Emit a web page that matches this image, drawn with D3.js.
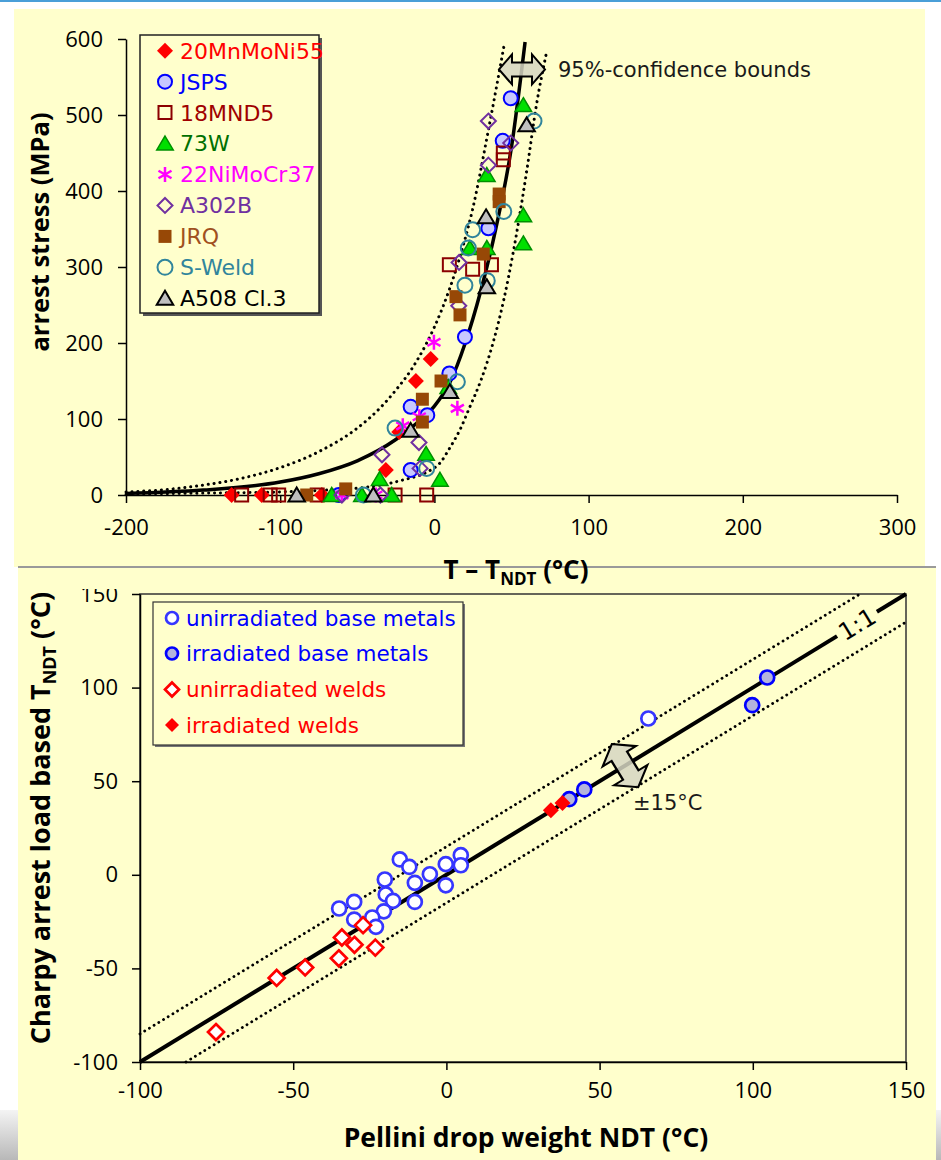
<!DOCTYPE html>
<html><head><meta charset="utf-8">
<script src="https://cdn.jsdelivr.net/npm/d3@7"></script>
<style>body{margin:0;background:#fff}svg{display:block}</style>
</head><body>
<svg id="c" width="941" height="1160"></svg>
<script>
// ---------------- DATA: top chart ----------------
const topXTicks = [-200,-100,0,100,200,300];
const topYTicks = [0,100,200,300,400,500,600];
const s20MnMoNi55 = [[-131.5,0],[-112,0],[-73,0],[-31.5,33],[-22.8,83],[-12,150],[-2.4,179]];
const sJSPS = [[49.5,522],[44.3,466],[35,351],[19.8,208],[9.7,160],[-15.4,116],[-4.6,105],[-15.4,33],[-62,0]];
const s18MND5 = [[44.7,450],[44.7,441],[9.7,303],[24.8,297],[37,303],[-5,0],[-25.5,0],[-125,0],[-106.5,0],[-101,0],[-76,0]];
const s73W = [[57.7,513],[34,421],[57.7,368],[57.7,331],[23,325],[34,325],[9,142],[-5.4,54],[3.6,20],[-35.5,21],[-66.6,0],[-47,0],[-27.7,0]];
const s22NiMoCr37 = [[-0.3,201],[14.9,114],[-9.8,103],[-20.5,91],[-60,0],[-38,0]];
const sA302B = [[35,492],[49.5,463],[35,434],[16,306],[15.8,249],[-10,69],[-34,53],[-9.3,35],[-60,0],[-35,0]];
const sJRQ = [[42,396],[42,386],[31.7,317],[14,261],[16.6,237],[4.3,150],[-7.8,126],[-7.8,96],[-57.5,8],[-82.8,0]];
const sSWeld = [[64.6,492],[45,373],[24.8,349],[22,325],[19.8,276],[34.3,282],[14.9,149],[-25.5,88],[-5,35],[-46,0]];
const sA508 = [[59.8,487],[33.5,366],[34,274],[10,136],[-15.4,85],[-89.3,0],[-39.6,0]];
const topNames = ["20MnMoNi55","JSPS","18MND5","73W","22NiMoCr37","A302B","JRQ","S-Weld","A508 Cl.3"];
// fitted curve & 95% bounds
const fitCurve = [[-200,2],[-150,6.5],[-100,17],[-75,28],[-50,45],[-25,73],[-10,97],[0,117],[10,148],[20,200],[30,268],[40,352],[50,458],[58.8,596]];
const upperBound = [[-200,4],[-175,7],[-150,13],[-125,22],[-100,36],[-75,57],[-50,88],[-35,115],[-25,138],[-15,165],[-5,200],[5,245],[15,303],[25,378],[35,480],[45.5,595]];
const lowerBound = [[-200,1],[-150,2.5],[-100,4],[-75,6],[-50,9],[-35,13],[-20,20],[-5,30],[4,43],[10,62],[16.6,86],[23,116],[30,150],[38,200],[45,257],[51,318],[60,428],[66,511],[73,585]];
const topArrowAt = [56.8,560];
const topNote = "95%-confidence bounds";

// ---------------- DATA: bottom chart ----------------
const botXTicks = [-100,-50,0,50,100,150];
const botYTicks = [-100,-50,0,50,100,150];
const unirrBase = [[-15.2,8.2],[-12.1,4.2],[-5.4,0.3],[-0.2,5.7],[4.7,10.5],[4.7,5.1],[-10.3,-4.3],[-0.2,-5.6],[-20.1,-2.5],[-19.8,-10.5],[-17.4,-13.9],[-10.3,-14.5],[-20.4,-19.5],[-30.1,-14.5],[-35,-18],[-30.1,-23.9],[-24.2,-22.8],[-23,-27.8],[65.9,83.5]];
const irrBase = [[104.7,105.4],[99.8,90.6],[45,45.6],[40.1,40.4]];
const unirrWelds = [[-75.2,-84],[-55.4,-55.1],[-46.1,-49.5],[-35.1,-44.6],[-34.1,-33.5],[-30,-37.4],[-27.2,-26.9],[-23.2,-38.9]];
const irrWelds = [[34.1,34.5],[37.9,38.4]];
const botNames = ["unirradiated base metals","irradiated base metals","unirradiated welds","irradiated welds"];
const oneToOne = [[-100,-100],[150,150]];
const band = 15;
const botArrowAt = [58.3,58.3];

// ---------------- DRAW ----------------
const svg = d3.select("#c");
const TICKF = "'Open Sans', sans-serif";
const LEGF = "'DejaVu Sans', sans-serif";
const defs = svg.append("defs");
const fmt = d => String(d);

// page background pieces
const gg = defs.append("linearGradient").attr("id","gb").attr("x1",0).attr("x2",0).attr("y1",0).attr("y2",1);
gg.append("stop").attr("offset","0%").attr("stop-color","#f4f4f4");
gg.append("stop").attr("offset","100%").attr("stop-color","#b8b8b8");
svg.append("rect").attr("x",0).attr("y",1110).attr("width",941).attr("height",50).attr("fill","url(#gb)");
svg.append("rect").attr("x",0).attr("y",0).attr("width",941).attr("height",2).attr("fill","#4a9fd8");
svg.append("rect").attr("x",14).attr("y",9).attr("width",911).attr("height",558).attr("fill","#FFFFCC");
svg.append("rect").attr("x",18).attr("y",567).attr("width",918).attr("height",593).attr("fill","#FFFFCC");
svg.append("line").attr("x1",18).attr("x2",936).attr("y1",567).attr("y2",567).attr("stroke","#9a9a9a").attr("stroke-width",2);

// marker helper
function markerPath(type, s){
  switch(type){
    case "diamond": return `M0,${-s}L${s},0L0,${s}L${-s},0Z`;
    case "square": return `M${-s},${-s}H${s}V${s}H${-s}Z`;
    case "triangle": return `M0,${-s}L${s*1.1},${s*0.85}L${-s*1.1},${s*0.85}Z`;
    case "star": {const a=s*0.87, b=s*0.5; return `M0,${-s}V${s}M${-a},${-b}L${a},${b}M${-a},${b}L${a},${-b}`;}
    default: return d3.symbol(d3.symbolCircle, Math.PI*s*s)();
  }
}
function drawMarkers(g, data, st, xs, ys){
  g.selectAll(null).data(data).enter().append("path")
   .attr("transform", d=>`translate(${xs(d[0])},${ys(d[1])})`)
   .attr("d", markerPath(st.type, st.size))
   .attr("fill", st.fill).attr("stroke", st.stroke).attr("stroke-width", st.sw)
   .attr("stroke-linejoin","miter");
}

// ======== TOP CHART ========
const xT = d3.scaleLinear([-200,300],[126,897]);
const yT = d3.scaleLinear([0,600],[495,39]);
const gTop = svg.append("g");

const topStyles = [
  {type:"diamond", size:8, fill:"#FF0000", stroke:"none", sw:0, text:"#FF0000"},
  {type:"circle", size:7, fill:"#C8C8FF", stroke:"#0000FF", sw:2, text:"#0000FF"},
  {type:"square", size:6.5, fill:"none", stroke:"#8B0000", sw:2, text:"#A00000"},
  {type:"triangle", size:7.5, fill:"#00E000", stroke:"#009000", sw:1.5, text:"#007000"},
  {type:"star", size:7.5, fill:"none", stroke:"#FF00FF", sw:2.5, text:"#FF00FF"},
  {type:"diamond", size:7.5, fill:"none", stroke:"#7030A0", sw:2, text:"#7030A0"},
  {type:"square", size:6.5, fill:"#974806", stroke:"none", sw:0, text:"#A0501E"},
  {type:"circle", size:7.5, fill:"none", stroke:"#31859C", sw:2, text:"#31859C"},
  {type:"triangle", size:7.5, fill:"#BFBFBF", stroke:"#000000", sw:2, text:"#000000"}
];
const topData = [s20MnMoNi55,sJSPS,s18MND5,s73W,s22NiMoCr37,sA302B,sJRQ,sSWeld,sA508];

// axes
const yAxT = d3.axisLeft(yT).tickValues(topYTicks).tickFormat(fmt).tickSize(8).tickSizeOuter(0).tickPadding(15);
const gyT = gTop.append("g").attr("transform","translate(126,0)").call(yAxT);
const xAxT = d3.axisBottom(xT).tickValues(topXTicks).tickFormat(fmt).tickSize(8).tickSizeOuter(0).tickPadding(16);
const gxT = gTop.append("g").attr("transform","translate(0,495)").call(xAxT);
[gyT,gxT].forEach(g=>{
  g.selectAll("path,line").attr("stroke","#000").attr("stroke-width",1.5);
  g.selectAll("text").attr("font-family",TICKF).attr("font-size",22).attr("fill","#000");
});

// curves
const lineT = d3.line().x(d=>xT(d[0])).y(d=>yT(d[1])).curve(d3.curveMonotoneX);
gTop.append("path").attr("d",lineT(upperBound)).attr("fill","none").attr("stroke","#000").attr("stroke-width",3).attr("stroke-dasharray","0.1 5.8").attr("stroke-linecap","round");
gTop.append("path").attr("d",lineT(lowerBound)).attr("fill","none").attr("stroke","#000").attr("stroke-width",3).attr("stroke-dasharray","0.1 5.8").attr("stroke-linecap","round");
gTop.append("path").attr("d",lineT(fitCurve)).attr("fill","none").attr("stroke","#000").attr("stroke-width",3.5);

// markers
topData.forEach((d,i)=>drawMarkers(gTop.append("g"), d, topStyles[i], xT, yT));

// arrow annotation
const arrowShape = "M-23,0L-10,-15L-10,-7L10,-7L10,-15L23,0L10,15L10,7L-10,7L-10,15Z";
gTop.append("path").attr("d",arrowShape)
  .attr("transform",`translate(${xT(topArrowAt[0])},${yT(topArrowAt[1])})`)
  .attr("fill","#D6D6C2").attr("fill-opacity",0.85).attr("stroke","#000").attr("stroke-width",2).attr("stroke-linejoin","miter");
gTop.append("text").attr("x",xT(topArrowAt[0])+36).attr("y",yT(topArrowAt[1])+8)
  .attr("font-family",LEGF).attr("font-size",21).attr("fill","#1a1a1a").text(topNote);

// legend
const legT = gTop.append("g");
legT.append("rect").attr("x",143).attr("y",38).attr("width",179).attr("height",278).attr("fill","#555");
legT.append("rect").attr("x",140).attr("y",35).attr("width",179).attr("height",278).attr("fill","#FFFFCC").attr("stroke","#222").attr("stroke-width",1.5);
topNames.forEach((n,i)=>{
  const cy = 50.7 + i*30.95;
  const st = topStyles[i];
  legT.append("path").attr("transform",`translate(165,${cy})`).attr("d",markerPath(st.type,st.size))
    .attr("fill",st.fill).attr("stroke",st.stroke).attr("stroke-width",st.sw);
  legT.append("text").attr("x",180).attr("y",cy).attr("dy","0.36em").attr("font-family",LEGF)
    .attr("font-size",22).attr("fill",st.text).text(n);
});

// axis titles
gTop.append("text").attr("transform","translate(49,232) rotate(-90)").attr("text-anchor","middle")
  .attr("font-family",TICKF).attr("font-weight","bold").attr("font-size",25.5).text("arrest stress (MPa)");

// ======== BOTTOM CHART ========
const xB = d3.scaleLinear([-100,150],[140,906]);
const yB = d3.scaleLinear([-100,150],[1062,594]);
const gBot = svg.append("g");
defs.append("clipPath").attr("id","cl").append("rect").attr("x",-200).attr("y",589).attr("width",1200).attr("height",600);

gBot.append("rect").attr("x",xB(-100)).attr("y",yB(150)).attr("width",xB(150)-xB(-100)).attr("height",yB(-100)-yB(150))
  .attr("fill","none").attr("stroke","#333").attr("stroke-width",1.5);
const yAxB = d3.axisLeft(yB).tickValues(botYTicks).tickFormat(fmt).tickSize(8).tickSizeOuter(0).tickPadding(14);
const gyB = gBot.append("g").attr("clip-path","url(#cl)").append("g").attr("transform","translate(140,0)").call(yAxB);
const xAxB = d3.axisBottom(xB).tickValues(botXTicks).tickFormat(fmt).tickSize(8).tickSizeOuter(0).tickPadding(12);
const gxB = gBot.append("g").attr("transform","translate(0,1062)").call(xAxB);
[gyB,gxB].forEach(g=>{
  g.selectAll("path,line").attr("stroke","#000").attr("stroke-width",1.5);
  g.selectAll("text").attr("font-family",TICKF).attr("font-size",22).attr("fill","#000");
});

// lines: +-15 dotted, 1:1 with gap for label
const lineB = d3.line().x(d=>xB(d[0])).y(d=>yB(d[1]));
const upperBand = [[-100,-100+band],[150-band,150]];
const lowerBand = [[-100+band,-100],[150,150-band]];
[upperBand,lowerBand].forEach(b=>gBot.append("path").attr("d",lineB(b)).attr("fill","none").attr("stroke","#000")
  .attr("stroke-width",2.8).attr("stroke-dasharray","0.1 5.4").attr("stroke-linecap","round"));
const gapA = 127.5, gapB = 140.5;
gBot.append("path").attr("d",lineB([oneToOne[0],[gapA,gapA]])).attr("stroke","#000").attr("stroke-width",4).attr("fill","none");
gBot.append("path").attr("d",lineB([[gapB,gapB],oneToOne[1]])).attr("stroke","#000").attr("stroke-width",4).attr("fill","none");
const ang = Math.atan2(yB(150)-yB(-100), xB(150)-xB(-100))*180/Math.PI;
gBot.append("text").attr("transform",`translate(${xB(134)},${yB(134)}) rotate(${ang})`).attr("text-anchor","middle").attr("dy","0.36em")
  .attr("font-family",LEGF).attr("font-size",24).attr("fill","#000").text("1:1");

// markers
const botStyles = [
  {type:"circle", size:7, fill:"#FFFFFF", stroke:"#3636FF", sw:2.7, text:"#0000FF"},
  {type:"circle", size:7, fill:"#B4B4DC", stroke:"#0000FF", sw:2.7, text:"#0000FF"},
  {type:"diamond", size:8, fill:"#FFFFFF", stroke:"#FF0000", sw:2.7, text:"#FF0000"},
  {type:"diamond", size:8, fill:"#FF0000", stroke:"none", sw:0, text:"#FF0000"}
];
[unirrBase,irrBase,unirrWelds,irrWelds].forEach((d,i)=>drawMarkers(gBot.append("g"), d, botStyles[i], xB, yB));

// arrow
gBot.append("path").attr("d",arrowShape)
  .attr("transform",`translate(${xB(botArrowAt[0])},${yB(botArrowAt[1])}) rotate(${ang+90}) scale(1.1,1.3)`)
  .attr("fill","#D6D6C2").attr("fill-opacity",0.85).attr("stroke","#000").attr("stroke-width",1.8);
gBot.append("text").attr("x",xB(botArrowAt[0])+8).attr("y",yB(botArrowAt[1])+44)
  .attr("font-family",LEGF).attr("font-size",21).attr("fill","#1a1a1a").text("±15°C");

// legend
const legB = gBot.append("g");
legB.append("rect").attr("x",155).attr("y",604).attr("width",310).attr("height",143).attr("fill","#777");
legB.append("rect").attr("x",153).attr("y",602).attr("width",310).attr("height",143).attr("fill","#FFFFCC").attr("stroke","#333").attr("stroke-width",1.2);
const legBy = [618,653.5,689.5,725];
botNames.forEach((n,i)=>{
  const st = botStyles[i];
  legB.append("path").attr("transform",`translate(172,${legBy[i]})`).attr("d",markerPath(st.type,st.type==="diamond"?7:6))
    .attr("fill",st.fill).attr("stroke",st.stroke).attr("stroke-width",st.sw);
  legB.append("text").attr("x",186).attr("y",legBy[i]).attr("dy","0.36em").attr("font-family",LEGF)
    .attr("font-size",21.5).attr("fill",st.text).text(n);
});

// titles
const tx = svg.append("text").attr("x",516).attr("y",579).attr("text-anchor","middle")
  .attr("font-family",TICKF).attr("font-weight","bold").attr("font-size",26);
tx.append("tspan").text("T – T");
tx.append("tspan").attr("font-size",17).attr("dy",6).text("NDT");
tx.append("tspan").attr("dy",-6).text("  (°C)");

const ty = gBot.append("text").attr("transform","translate(50,818) rotate(-90)").attr("text-anchor","middle")
  .attr("font-family",TICKF).attr("font-weight","bold").attr("font-size",27);
ty.append("tspan").text("Charpy arrest load based  T");
ty.append("tspan").attr("font-size",18).attr("dy",6).text("NDT");
ty.append("tspan").attr("dy",-6).text("  (°C)");

gBot.append("text").attr("x",526).attr("y",1147).attr("text-anchor","middle")
  .attr("font-family",TICKF).attr("font-weight","bold").attr("font-size",26.5).text("Pellini drop weight NDT (°C)");
</script>
</body></html>
